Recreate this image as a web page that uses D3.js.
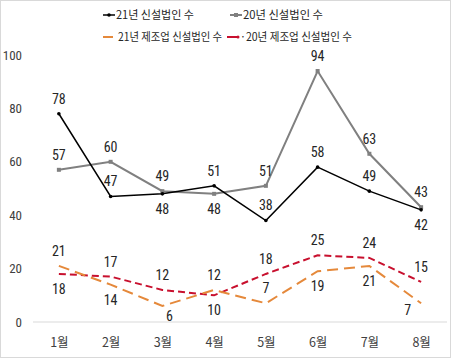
<!DOCTYPE html>
<html><head><meta charset="utf-8">
<script src="https://cdn.jsdelivr.net/npm/d3@7/dist/d3.min.js"></script>
<style>body{margin:0;background:#fff}svg{display:block}</style>
</head><body><div id="c"></div>
<script>
const months = ["1월","2월","3월","4월","5월","6월","7월","8월"];
const y21 = [78,47,48,51,38,58,49,42];
const y20 = [57,60,49,48,51,94,63,43];
const m21 = [21,14,6,12,7,19,21,7];
const m20 = [18,17,12,10,18,25,24,15];
const yTicks = [0,20,40,60,80,100];
const seriesNames = ["21년 신설법인 수","20년 신설법인 수","21년 제조업 신설법인 수","·20년 제조업 신설법인 수"];
// label placement: a=above, b=below, l=left, r=below-right
const pos21 = ["a","a","b","a","a","a","a","b"];
const pos20 = ["a","a","a","b","a","a","a","a"];
const posM21 = ["a","b","r","a","a","b","b","l"];
const posM20 = ["b","a","a","b","a","a","a","a"];

const W=451,H=358;
const svg=d3.select("#c").append("svg").attr("width",W).attr("height",H);
svg.append("rect").attr("x",0.5).attr("y",0.5).attr("width",W-1).attr("height",H-1).attr("fill","#fff").attr("stroke","#d9d9d9");

const x=d3.scalePoint().domain(months).range([33,447]).padding(0.5);
const y=d3.scaleLinear().domain([0,100]).range([322,55]);
const numFont="'Liberation Sans Narrow','Roboto Condensed',Roboto,sans-serif";
const krFont="'Noto Sans CJK KR','Liberation Sans Narrow',sans-serif";

svg.append("line").attr("x1",33).attr("x2",447).attr("y1",y(0)).attr("y2",y(0)).attr("stroke","#d9d9d9").attr("stroke-width",1);

const ya=svg.append("g").attr("transform","translate(22,0)").call(d3.axisLeft(y).tickValues(yTicks).tickSize(0).tickPadding(0));
ya.select(".domain").remove();
ya.selectAll("text").attr("font-family",numFont).attr("font-size",13).attr("fill","#404040");

const xa=svg.append("g").attr("transform","translate(0,336)").call(d3.axisBottom(x).tickSize(0).tickPadding(0));
xa.select(".domain").remove();
xa.selectAll("text").attr("font-family",krFont).attr("font-size",12.5).attr("fill","#404040").attr("dy","0.35em").attr("y",7);

const series=[
 {v:y21,color:"#000000",w:1.5,dash:null,pos:pos21,marker:"circle"},
 {v:y20,color:"#808080",w:2,dash:null,pos:pos20,marker:"square"},
 {v:m21,color:"#E5893B",w:2,dash:"11,6",pos:posM21,marker:null},
 {v:m20,color:"#C8102E",w:2,dash:"7,4",pos:posM20,marker:null}
];
const line=d3.line().x((d,i)=>x(months[i])).y(d=>y(d));
[1,0,3,2].forEach(k=>{
  const s=series[k];
  const p=svg.append("path").datum(s.v).attr("d",line).attr("fill","none").attr("stroke",s.color).attr("stroke-width",s.w).attr("stroke-linejoin","miter");
  if(s.dash) p.attr("stroke-dasharray",s.dash);
  if(s.marker==="circle"){
    svg.selectAll(null).data(s.v).enter().append("circle").attr("cx",(d,i)=>x(months[i])).attr("cy",d=>y(d)).attr("r",1.8).attr("fill",s.color);
  } else if(s.marker==="square"){
    svg.selectAll(null).data(s.v).enter().append("rect").attr("x",(d,i)=>x(months[i])-2).attr("y",d=>y(d)-2).attr("width",4).attr("height",4).attr("fill",s.color);
  }
});
series.forEach(s=>{
  svg.selectAll(null).data(s.v).enter().append("text")
   .attr("x",(d,i)=>{const p=s.pos[i];return x(months[i])+(p==="l"?-10:p==="r"?7:0);})
   .attr("y",(d,i)=>{const p=s.pos[i];return y(d)+(p==="a"?-15:p==="b"?15:p==="r"?10:7);})
   .attr("dy","0.35em")
   .attr("text-anchor",(d,i)=>s.pos[i]==="l"?"end":"middle")
   .attr("font-family",numFont).attr("font-size",14).attr("fill","#262626")
   .text(d=>d);
});

const leg=[
 {x:103,y:15,s:0,tl:78},{x:230,y:15,s:1,tl:80},{x:103,y:37,s:2,tl:104},{x:227,y:37,s:3,tl:112}
];
leg.forEach(l=>{
  const s=series[l.s];
  const g=svg.append("g");
  const len=l.s===2?10:12;
  g.append("line").attr("x1",l.x).attr("x2",l.x+len).attr("y1",l.y).attr("y2",l.y).attr("stroke",s.color).attr("stroke-width",s.w);
  if(s.marker==="circle") g.append("circle").attr("cx",l.x+len/2).attr("cy",l.y).attr("r",1.8).attr("fill",s.color);
  if(s.marker==="square") g.append("rect").attr("x",l.x+len/2-2).attr("y",l.y-2).attr("width",4).attr("height",4).attr("fill",s.color);
  if(l.s===3) g.append("circle").attr("cx",l.x+len-1).attr("cy",l.y).attr("r",1.5).attr("fill",s.color);
  g.append("text").attr("x",l.x+len+(l.s===2?5:1)).attr("y",l.y).attr("dy","0.35em")
   .attr("font-family",krFont).attr("font-size",11.5).attr("fill","#262626")
   .attr("textLength",l.tl).attr("lengthAdjust","spacingAndGlyphs").text(seriesNames[l.s]);
});
</script></body></html>
